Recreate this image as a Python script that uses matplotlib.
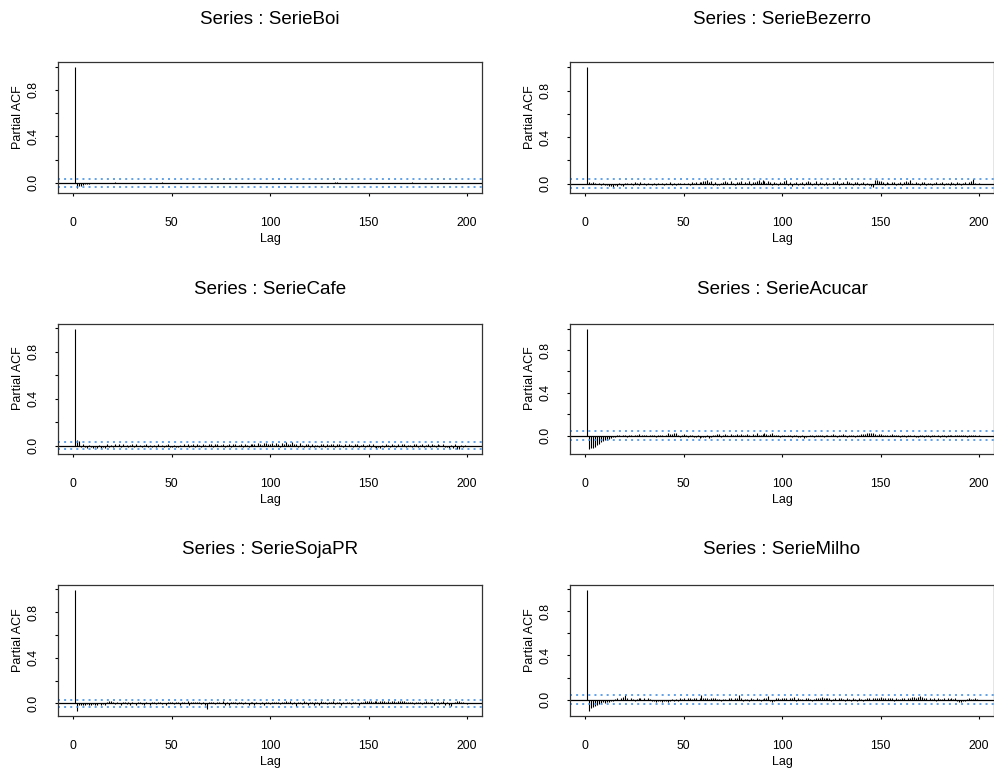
import matplotlib
matplotlib.use("Agg")
import matplotlib.pyplot as plt
import numpy as np

plt.rcParams['font.family'] = ['Liberation Sans', 'DejaVu Sans']

titles = ["Series : SerieBoi", "Series : SerieBezerro", "Series : SerieCafe",
          "Series : SerieAcucar", "Series : SerieSojaPR", "Series : SerieMilho"]

lags = list(range(1, 201))

# partial autocorrelations, in thousandths
pacf_boi = [
 997, -45, -30, -25, -20, -12, -8, -6, -5, -4,
 -3, -4, -2, -3, -1, -2, 1, -2, 2, 3,
 4, 2, -1, 1, -2, -3, 0, -2, -1, -3,
 -2, 1, -1, 2, -2, -1, -3, 1, 0, -2,
 2, 3, 1, -1, 4, 2, -2, 1, -1, 0,
 -2, 2, -1, 1, 3, -1, -2, 1, -3, 0,
 1, -2, 2, -1, 0, -2, 1, 2, -1, -3,
 1, 0, 2, -2, -1, 1, 3, -1, 0, -2,
 1, -1, 2, 1, -2, 0, 1, -1, 2, -1,
 -2, 1, 0, -1, 2, 1, -2, -1, 1, 0,
 2, -1, -2, 1, 0, 2, -1, 1, -2, 0,
 1, -1, 2, 0, -2, 1, -1, 2, 1, -3,
 -2, 1, 0, -1, 2, 3, -1, 1, 2, 3,
 1, 2, 4, 10, 3, 1, -1, 2, 0, -2,
 1, -1, 2, 0, 1, -2, 1, 0, -1, 2,
 1, -2, 0, 1, -1, 2, 0, -2, 1, -1,
 2, 1, -1, 0, 2, -2, 1, 3, -1, 0,
 2, 4, -1, 1, 2, -3, 1, 0, -1, 2,
 1, -2, 0, 1, 2, -1, 0, 1, -2, 1,
 2, -1, 1, 3, -2, 0, 1, -1, 2, 0]

pacf_bezerro = [
 1005, 12, 8, 15, 5, -5, 6, -8, 4, -10,
 -15, -22, -18, -25, -12, -20, 8, -15, -22, 5,
 10, -6, 8, -10, 12, 3, -8, 15, -5, 6,
 -12, 8, -6, -14, 5, -8, 10, -4, 6, -10,
 8, -5, 12, -8, 4, -12, 6, 10, -6, 8,
 -4, 10, -8, 12, 6, 15, -5, 18, 12, 20,
 25, 28, 18, 22, -8, 15, -10, -12, 8, 12,
 22, 15, -6, 25, 10, -8, 18, 12, 20, -5,
 14, 8, 22, -10, 18, 12, 25, 28, 15, 30,
 20, 8, 26, 12, -8, 15, 10, -12, 18, 8,
 25, 30, -15, 12, -20, 8, 15, -10, 6, 18,
 -8, 12, 20, 15, -12, 8, 22, -10, 14, 6,
 -12, 15, -8, 10, -5, 18, 12, 25, -8, 10,
 15, -6, 20, 12, 8, -10, 14, 18, -8, 6,
 12, -10, 8, -15, -20, -25, 30, 32, 25, 20,
 12, -8, 15, 10, -6, 18, 12, -10, 8, 15,
 -8, 12, 20, 15, 28, 10, -6, 18, 8, -10,
 12, 15, -8, 10, 6, -12, 8, 14, -6, 10,
 12, -8, 6, 10, -10, 15, 8, -12, 12, 6,
 -8, 10, 15, -6, 12, 25, 40, 8, -5, 4]

pacf_cafe = [
 997, 45, 38, -8, 12, -15, -18, 6, -12, -20,
 -15, -18, 8, -22, -12, -16, 10, -10, 6, -8,
 12, -6, 10, -12, 14, -5, 8, -10, 6, 12,
 -8, 10, -6, 8, -12, 5, 14, -8, 6, -10,
 8, -14, 10, -6, 5, -12, 8, 10, -8, -12,
 6, -10, -15, 8, -6, 12, -5, 10, -8, 6,
 12, -8, 10, 6, -10, 14, 8, -6, 12, 18,
 -8, 10, 15, -6, 8, 12, -10, 6, 14, -8,
 10, 12, -6, 8, 15, -10, 12, 6, -8, 10,
 18, 12, -6, 22, 15, 8, 25, 20, 12, 18,
 22, 8, 25, 15, -8, 20, 12, 28, 15, 10,
 30, 18, 12, -10, 20, 8, -12, 10, 15, -8,
 12, -10, 8, 6, -12, 14, 10, -8, 12, 6,
 15, 10, -8, 12, 18, 8, -10, 12, -6, 10,
 8, -12, 14, 10, -8, 6, 12, -10, 8, 14,
 -8, 10, -12, -18, -15, -20, 8, -10, 12, 6,
 -12, 10, 8, -8, 14, -6, 10, 12, -10, 8,
 6, -12, 10, 14, -8, 6, 12, -10, 8, 10,
 -8, 12, 6, -10, 14, 8, -6, 10, -12, -15,
 -20, 8, -18, 10, -25, -30, 6, -10, 2, -3]

pacf_acucar = [
 998, -125, -110, -118, -100, -85, -75, -60, -50, -42,
 -35, -28, -22, -15, -10, 12, 8, -6, 10, 6,
 -8, 12, 5, -6, 10, 8, 14, -5, 6, 10,
 8, -6, 12, 5, 10, -8, 6, 12, 8, -5,
 10, 25, 20, 15, 28, 22, 12, -8, 10, 18,
 6, -10, 8, 12, -15, -12, 6, -18, -10, -15,
 -12, 8, -20, -10, 12, 6, 15, 20, -8, 12,
 18, 10, -6, 15, 12, 8, 20, 10, 14, 6,
 12, 18, 8, -6, 15, 10, 22, 12, 8, 18,
 25, 15, 10, 20, 22, 12, 6, 10, -8, 12,
 8, -6, 10, 6, -8, 12, 5, -10, -15, 8,
 -18, -12, -6, 8, 10, -8, 6, 10, 12, 6,
 -8, 10, 12, -6, 8, 14, 10, -8, 12, 6,
 14, 8, -10, 12, 6, 10, -8, 12, 10, 14,
 20, 15, 25, 28, 22, 30, 18, 12, 20, 15,
 10, 8, 12, -6, 10, 14, 8, 6, 12, -8,
 10, 6, -8, 12, 8, -6, 10, -10, -12, 6,
 8, -10, 12, 6, -8, 10, 8, -6, 12, -8,
 6, 10, -8, 8, 12, 6, -6, 10, 8, 6,
 10, 8, 6, -8, 10, 6, 8, 4, -3, 5]

pacf_sojapr = [
 995, -68, -12, -18, -10, -15, -8, -12, -14, -6,
 -10, -15, 6, -12, -8, -10, 12, 25, 22, 8,
 -8, 10, 6, -10, 12, 8, -6, 10, -12, 8,
 6, -10, 8, 12, -6, -10, 8, 6, -12, 10,
 8, -6, 12, 10, -8, 6, -10, 14, 8, 12,
 -8, 10, 15, -12, 8, 12, 6, 18, -10, 12,
 10, 15, 8, 12, -6, 10, -12, -50, 8, 10,
 12, -8, 10, 15, 6, 18, -10, 14, -15, 12,
 8, 12, -6, 10, 14, -8, 12, 6, -10, 8,
 12, -12, 10, 6, -8, 12, -10, 8, 14, -6,
 10, 12, 8, 15, -6, 10, 14, 20, 12, 18,
 -8, 12, -20, 10, 14, -6, 18, 12, -15, 10,
 8, -18, 12, 15, -10, 20, 8, 12, -8, 14,
 10, 18, -6, 12, 8, -10, 14, 6, 12, 10,
 -8, 12, 10, 6, -10, 14, 8, 18, 20, 25,
 22, 15, 18, 20, 12, 25, 18, 22, 15, 20,
 12, 18, 22, 15, 20, 25, 18, 22, 12, 15,
 10, 8, -6, 12, 15, 10, -8, 12, 18, 10,
 14, 8, -10, 12, 15, -8, 10, 20, -12, 8,
 -15, -25, 6, 12, 18, 20, 10, 8, 3, -2]

pacf_milho = [
 995, -105, -80, -70, -55, -45, -40, -35, -25, -30,
 -20, -22, -15, -12, 8, 10, -6, 12, 20, 45,
 10, -8, 12, 6, -10, 8, 14, 12, -6, 10,
 -8, 12, 6, -14, -10, -18, -15, -12, -20, -16,
 -12, -18, -10, 8, -14, 6, -12, 10, 8, 12,
 -6, 10, 12, 8, 15, 12, -8, 10, 45, 15,
 12, 10, 8, 12, 14, 10, 6, 8, -10, 6,
 8, -6, 10, 12, -8, 14, 10, 40, 12, -10,
 8, 6, -10, 12, 8, -6, 10, 8, -12, 6,
 10, 12, 30, -15, -18, -12, 10, 12, 8, 15,
 12, 10, -8, 18, 12, 20, -10, 14, 8, 6,
 -8, 10, 12, 6, -10, 8, 12, 15, 18, 20,
 16, 18, 12, 10, -10, 8, 12, -8, 10, 14,
 8, -12, 10, 6, -10, 12, 8, -14, 10, 6,
 -12, 8, 10, 12, -8, 14, 10, 18, 12, 20,
 12, 10, -8, 14, 10, 18, -10, 12, 8, 6,
 10, 14, -6, 12, 18, 20, 22, 15, 25, 28,
 20, 12, 10, -6, 12, 8, 10, -10, 12, 8,
 6, 10, -8, 12, 6, 10, 8, 12, -12, -18,
 -20, -15, -12, 8, 10, 6, 8, 12, 3, -2]

series = [pacf_boi, pacf_bezerro, pacf_cafe, pacf_acucar, pacf_sojapr, pacf_milho]
# confidence bands (+/-)
bands = [0.032, 0.038, 0.029, 0.040, 0.030, 0.042]

yticks = [0.0, 0.2, 0.4, 0.6, 0.8, 1.0]
yticklabels = ["0.0", "", "0.4", "", "0.8", ""]
xticks = [0, 50, 100, 150, 200]

W, H = 994, 773
fig = plt.figure(figsize=(W / 100, H / 100), dpi=100)

col_left = [58, 570]
axw = 424
row_top = [62, 324, 585]
row_h = [131, 130, 131]
title_y = [19, 289, 549]

for i in range(6):
    r, c = divmod(i, 2)
    x0 = col_left[c]
    y0 = row_top[r]
    h = row_h[r]
    ax = fig.add_axes([x0 / W, 1 - (y0 + h) / H, axw / W, h / H])
    vals = np.array(series[i]) / 1000.0
    b = bands[i]
    ax.vlines(lags, 0, vals, color='black', lw=0.8)
    ax.axhline(0, color='black', lw=0.9)
    ax.axhline(b, color='#3587e0', lw=1.1, ls=(0, (1.3, 2.7)))
    ax.axhline(-b, color='#3587e0', lw=1.1, ls=(0, (1.3, 2.7)))
    lo = min(vals.min(), -b)
    hi = max(vals.max(), b)
    pad = 0.04 * (hi - lo)
    ax.set_ylim(lo - pad, hi + pad)
    ax.set_xlim(-7.8, 207.6)
    ax.set_xticks(xticks)
    ax.set_xticklabels([str(t) for t in xticks])
    ax.set_yticks(yticks)
    ax.set_yticklabels(yticklabels, rotation=90, va='center')
    ax.tick_params(axis='both', direction='out', length=2.5, width=0.8,
                   labelsize=8.7, colors='black')
    ax.tick_params(axis='x', pad=14.5)
    ax.tick_params(axis='y', pad=10.5)
    for sp in ax.spines.values():
        sp.set_linewidth(0.9)
        sp.set_color('#333333')
    cx = x0 + axw / 2
    fig.text(cx / W, 1 - title_y[r] / H, titles[i], ha='center', va='center',
             fontsize=13.5)
    fig.text(cx / W, 1 - (y0 + h + 46) / H, "Lag", ha='center', va='center',
             fontsize=9)
    fig.text((x0 - 40) / W, 1 - (y0 + h * 0.42) / H, "Partial ACF",
             rotation=90, ha='center', va='center', fontsize=9)

fig.savefig("out.png", dpi=100)
